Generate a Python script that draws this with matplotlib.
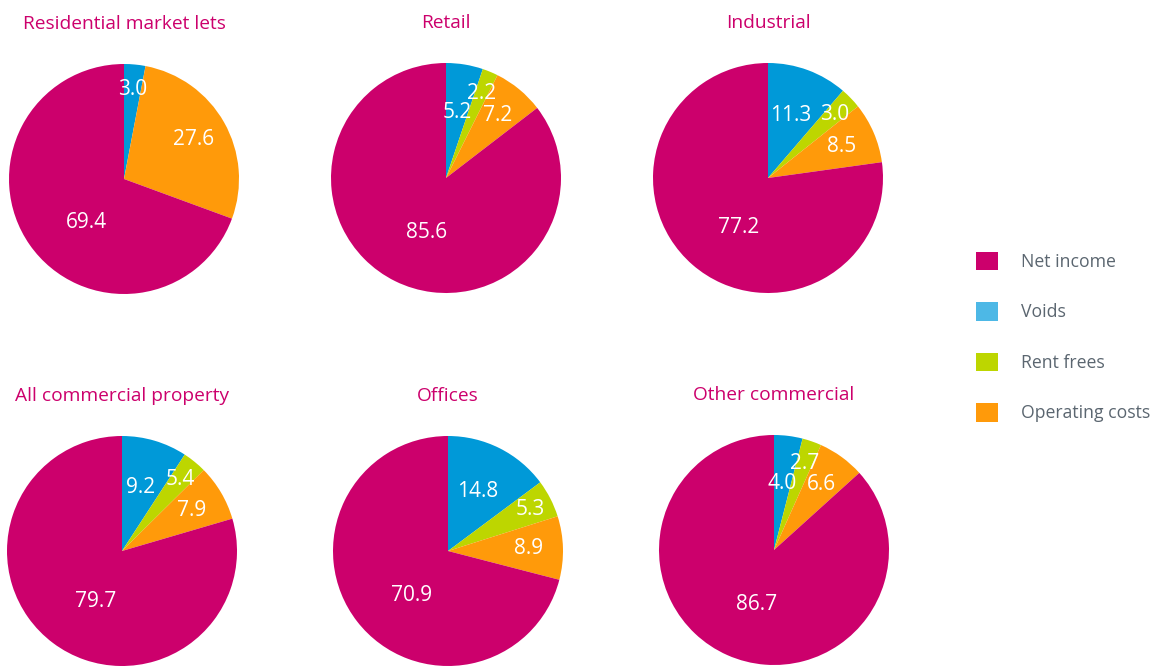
import matplotlib
matplotlib.use("Agg")
import matplotlib.pyplot as plt
from matplotlib.patches import Patch
import numpy as np

plt.rcParams['font.family'] = ['Open Sans', 'DejaVu Sans']

## data: shares of rent (%), clockwise from 12 o'clock
categories = ['Voids', 'Rent frees', 'Operating costs', 'Net income']
titles = ['Residential market lets', 'Retail', 'Industrial',
          'All commercial property', 'Offices', 'Other commercial']
voids = [3.0, 5.2, 11.3, 9.2, 14.8, 4.0]
# all commercial rent-free wedge is drawn at ~3.4 in the source, labelled 5.4
rent_frees = [0.0, 2.2, 3.0, 3.4, 5.3, 2.7]
rent_frees_labels = ['', '2.2', '3.0', '5.4', '5.3', '2.7']
operating_costs = [27.6, 7.2, 8.5, 7.9, 8.9, 6.6]
net_income = [69.4, 85.6, 77.2, 79.7, 70.9, 86.7]

legend_order = ['Net income', 'Voids', 'Rent frees', 'Operating costs']

## styling
MAGENTA = '#CC006C'
pie_colors = {'Voids': '#0099D8', 'Rent frees': '#BDD600',
              'Operating costs': '#FF9A0A', 'Net income': MAGENTA}
legend_colors = {'Voids': '#4DB8E6', 'Rent frees': '#BDD600',
                 'Operating costs': '#FF9A0A', 'Net income': MAGENTA}
label_dist = {'Voids': 0.58, 'Rent frees': 0.8, 'Operating costs': 0.7,
              'Net income': 0.5}

W, H = 1162, 666
R = 115  # pie radius in px
centers = [(124, 179), (446, 178), (768, 178),
           (122, 551), (448, 551), (774, 550)]

fig = plt.figure(figsize=(W / 100, H / 100), dpi=100)

for i, title in enumerate(titles):
    cx, cy = centers[i]
    ax = fig.add_axes([(cx - R) / W, (H - cy - R) / H, 2 * R / W, 2 * R / H])
    vals = [voids[i], rent_frees[i], operating_costs[i], net_income[i]]
    texts = [f'{voids[i]:.1f}', rent_frees_labels[i],
             f'{operating_costs[i]:.1f}', f'{net_income[i]:.1f}']
    keep = [(c, v, t) for c, v, t in zip(categories, vals, texts) if v > 0]
    cats = [k[0] for k in keep]
    wedges, _ = ax.pie([k[1] for k in keep],
                       colors=[pie_colors[c] for c in cats],
                       startangle=90, counterclock=False, radius=1,
                       wedgeprops=dict(linewidth=0))
    for w, (c, v, t) in zip(wedges, keep):
        mid = (w.theta1 + w.theta2) / 2
        d = label_dist[c]
        if c == 'Net income':
            # big slice: label sits lower, nearer the bottom of the pie
            mid = (mid - 360 if mid > 180 else mid) * 0.75 - 90 * 0.25
        elif c == 'Voids' and rent_frees[i] == 0:
            d = 0.78
        ang = np.deg2rad(mid)
        ax.text(d * np.cos(ang), d * np.sin(ang), t, color='white',
                fontsize=15, ha='center', va='center')
    ax.set_xlim(-1, 1)
    ax.set_ylim(-1, 1)
    ax.set_aspect('equal')
    ax.axis('off')
    ax.text(0, 1.35, title, color=MAGENTA, fontsize=13.8, ha='center',
            va='center', clip_on=False)

handles = [Patch(facecolor=legend_colors[c], edgecolor='none') for c in legend_order]
leg = fig.legend(handles, legend_order, loc='center left',
                 bbox_to_anchor=(960 / W, 1 - 337 / H), frameon=False,
                 fontsize=12.7, handlelength=1.25, handleheight=1.25,
                 handletextpad=1.3, labelspacing=1.77)
for t in leg.get_texts():
    t.set_color('#5B6670')

fig.savefig('out.png', dpi=100)
